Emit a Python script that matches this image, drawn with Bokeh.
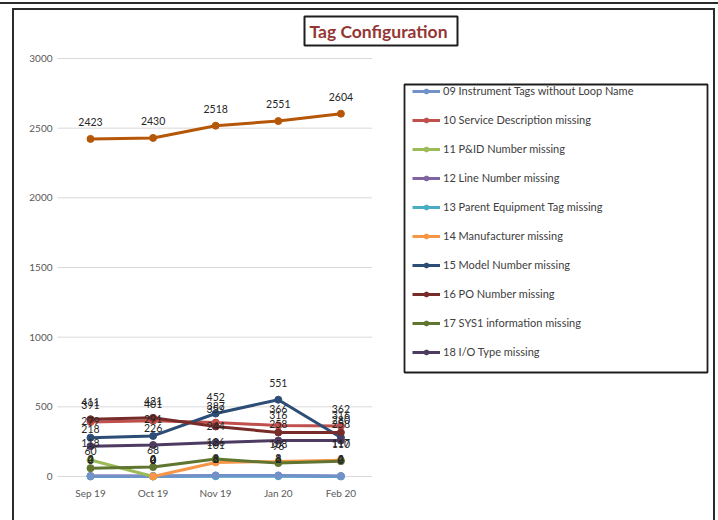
import math

from bokeh.core.properties import value
from bokeh.embed import file_html
from bokeh.models import (BoxAnnotation, ColumnDataSource, FixedTicker, InlineStyleSheet,
                          Label, Legend, LegendItem, Range1d)
from bokeh.plotting import figure
from bokeh.resources import INLINE

NA = float("nan")

# reporting months (category axis)
months = ["Sep 19", "Oct 19", "Nov 19", "Jan 20", "Feb 20"]

# tag counts per check
tags_without_loop = [2, 2, 8, 8, 4]
service_description = [391, 401, 387, 366, 362]
pid_number = [118, 0, NA, NA, NA]
line_number = [4, 4, 6, 6, 2]
parent_equipment = [0, 0, 2, 2, 0]
manufacturer = [NA, 0, 101, 108, 117]
model_number = [279, 291, 452, 551, 280]
po_number = [411, 421, 359, 316, 316]
sys1_information = [60, 68, 126, 96, 110]
io_type = [218, 226, 244, 258, 258]
total_tags = [2423, 2430, 2518, 2551, 2604]

# value-axis ticks
y_ticks = [0, 500, 1000, 1500, 2000, 2500, 3000]

series = [
    ("09 Instrument Tags without Loop Name", tags_without_loop, "#7391C9"),
    ("10 Service Description missing", service_description, "#C0504D"),
    ("11 P&ID Number missing", pid_number, "#9BBB59"),
    ("12 Line Number missing", line_number, "#8064A2"),
    ("13 Parent Equipment Tag missing", parent_equipment, "#4BACC6"),
    ("14 Manufacturer missing", manufacturer, "#F79646"),
    ("15 Model Number missing", model_number, "#2C4D75"),
    ("16 PO Number missing", po_number, "#772C2A"),
    ("17 SYS1 information missing", sys1_information, "#5F7530"),
    ("18 I/O Type missing", io_type, "#4D3B62"),
    (None, total_tags, "#B65708"),
]
# the near-zero lines 12 and 13 sit underneath line 09
draw_order = [3, 4, 0, 1, 2, 5, 6, 7, 8, 9, 10]

FONT = "Lato"
idx = list(range(len(months)))

# frame: x 57..718, y 0..482 (canvas pixels); category slots are 62.6 px wide,
# the first slot starting at x = 58.7
SLOT = 62.6
x_start = -0.5 - (58.7 - 57) / SLOT
x_end = x_start + (718 - 57) / SLOT
PX = (476 - 58) / 3000.0
y_start = -(482 - 476) / PX
y_end = 3000 + 58 / PX

# outer panel borders drawn around the canvas
frame_css = InlineStyleSheet(css="""
:host { position: relative; }
:host::before {
  content: ""; position: absolute; left: 12px; top: 8px; width: 703px; height: 512px;
  border-left: 2px solid #2B2B2B; border-right: 2px solid #2B2B2B;
  border-top: 2px solid #2B2B2B; box-sizing: border-box; pointer-events: none; z-index: 20;
}
:host::after {
  content: ""; position: absolute; left: 0px; top: 1.5px; width: 718px; height: 2px;
  background: #2B2B2B; pointer-events: none; z-index: 20;
}
""")

p = figure(
    x_range=Range1d(x_start, x_end),
    y_range=Range1d(y_start, y_end),
    width=718, height=520,
    min_border_left=57, min_border_right=0,
    min_border_top=0, min_border_bottom=38,
    output_backend="svg", toolbar_location=None,
    stylesheets=[frame_css],
)
p.title.visible = False
p.outline_line_color = None
p.background_fill_color = "white"
p.border_fill_color = "white"
p.grid.visible = False

p.yaxis.ticker = FixedTicker(ticks=y_ticks)
p.yaxis.major_label_standoff = 5
p.xaxis.ticker = FixedTicker(ticks=idx)
p.xaxis.major_label_overrides = {i: m for i, m in zip(idx, months)}
p.xaxis.major_label_standoff = 4
for ax in (p.xaxis, p.yaxis):
    ax.axis_line_color = None
    ax.major_tick_line_color = None
    ax.minor_tick_line_color = None
    ax.major_tick_out = 0
    ax.major_tick_in = 0
    ax.minor_tick_out = 0
    ax.major_label_text_font = FONT
    ax.major_label_text_font_size = "10px"
    ax.major_label_text_color = "#595959"

# horizontal gridlines limited to the category area
p.segment(x0=[-0.55] * len(y_ticks), x1=[4.5] * len(y_ticks), y0=y_ticks, y1=y_ticks,
          line_color="#D9D9D9", line_width=1)

renderers = {}
for k in draw_order:
    name, vals, color = series[k]
    src = ColumnDataSource(dict(x=idx, y=vals))
    ln = p.line("x", "y", source=src, line_color=color, line_width=3)
    dots = p.scatter("x", "y", source=src, size=7, fill_color=color, line_color=color)
    renderers[k] = [ln, dots]

# value labels above every point
for name, vals, color in series:
    pts = [(i, v) for i, v in zip(idx, vals) if not math.isnan(v)]
    lab = ColumnDataSource(dict(x=[i for i, _ in pts], y=[v for _, v in pts],
                                t=[str(int(v)) for _, v in pts]))
    p.text("x", "y", text="t", source=lab, text_align="center", text_baseline="middle",
           y_offset=-17, text_font=value(FONT), text_font_size="10.5px",
           text_color="#262626")

items = [LegendItem(label=name, renderers=renderers[k])
         for k, (name, vals, color) in enumerate(series) if name is not None]

# screen units: origin at the frame's bottom-left, y upwards
FL, FB = 57, 482


def sx(x):
    return x - FL


def sy(y):
    return FB - y


def box(l, r, t, b, w=2, color="#1E1E1E"):
    p.add_layout(BoxAnnotation(
        left=sx(l), right=sx(r), top=sy(t), bottom=sy(b),
        left_units="screen", right_units="screen", top_units="screen", bottom_units="screen",
        fill_color=None, fill_alpha=0, line_color=color, line_alpha=1, line_width=w))


box(304, 457, 16, 45)                # title frame
box(404, 707, 84, 372, w=1.8)        # legend frame

p.add_layout(Label(
    x=sx(378), y=sy(31), x_units="screen", y_units="screen",
    text="Tag Configuration", text_align="center", text_baseline="middle",
    text_font=FONT, text_font_style="bold", text_font_size="17.5px",
    text_color="#943634"))

legend = Legend(items=items, location=(412 - FL, FB - 358))
legend.padding = 0
legend.margin = 0
legend.spacing = 16
legend.glyph_height = 12
legend.label_height = 12
legend.glyph_width = 28
legend.label_standoff = 3
legend.border_line_color = None
legend.background_fill_alpha = 0
legend.label_text_font = FONT
legend.label_text_font_size = "11px"
legend.label_text_color = "#404040"
p.add_layout(legend)

open("out.html", "w").write(file_html(p, INLINE))
